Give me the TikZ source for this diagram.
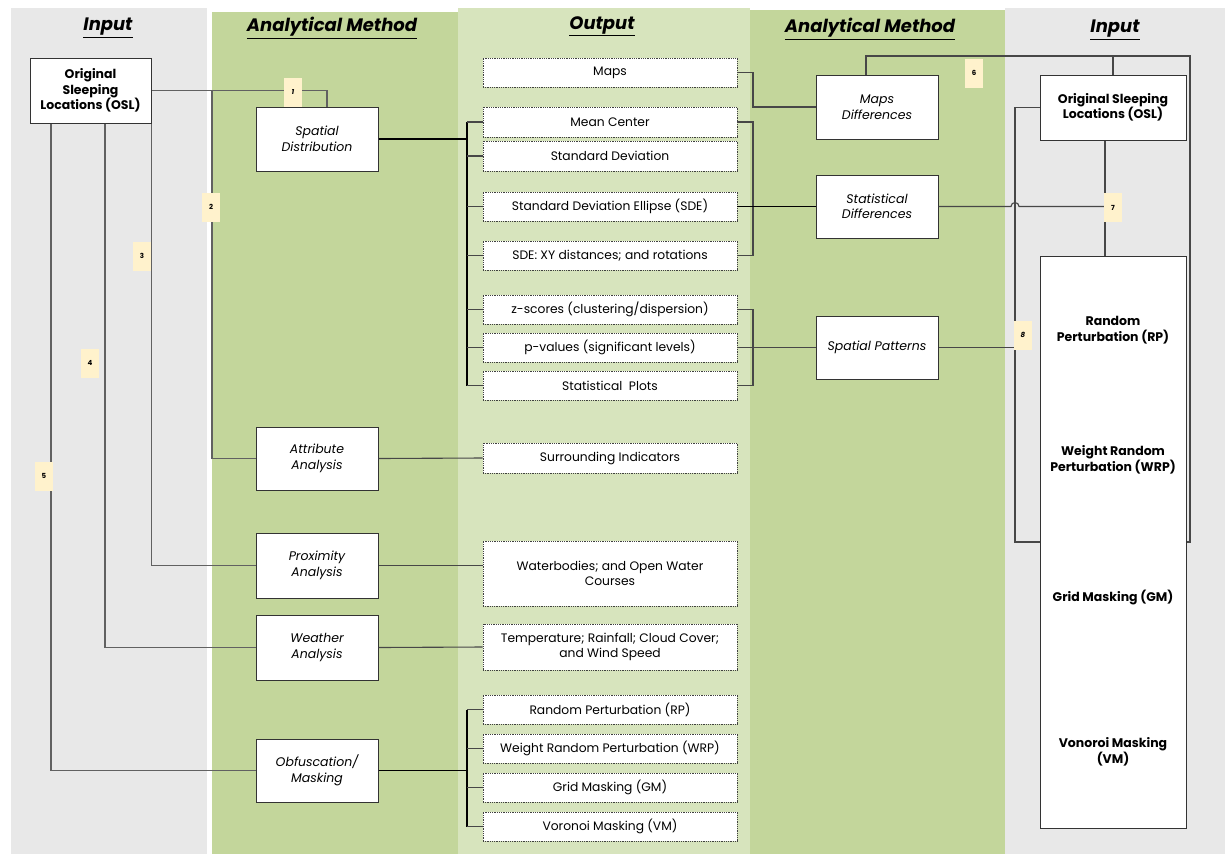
\documentclass[tikz,border=0pt]{standalone}
\usepackage{fontspec}
\setmainfont{Poppins}
\usetikzlibrary{shadows}
\definecolor{bggray}{HTML}{E8E8E8}
\definecolor{bggreen}{HTML}{C3D69B}
\definecolor{bgout}{HTML}{D7E4BD}
\definecolor{badgec}{HTML}{FFF2CC}
\tikzset{
  box/.style={draw=black!80, line width=1pt, fill=white, minimum width=122pt, minimum height=64pt, align=center, inner sep=1pt, font=\fontsize{12.5}{15.5}\selectfont\itshape, drop shadow={shadow xshift=1pt, shadow yshift=-1pt, opacity=0.35}},
  inbox/.style={box, font=\fontsize{12.5}{15.5}\selectfont\bfseries},
  outbox/.style={draw=black!75, densely dotted, line width=0.8pt, fill=white, minimum width=254pt, minimum height=29pt, align=center, inner sep=1pt, font=\fontsize{12.3}{15.5}\selectfont},
  conn/.style={draw=black!72, line width=1.1pt},
  lconn/.style={draw=black!62, line width=1.5pt},
  busline/.style={draw=black, line width=1.3pt},
  badge/.style={fill=badgec, minimum width=18pt, minimum height=29pt, inner sep=0pt, font=\fontsize{7}{8}\selectfont\bfseries},
  head/.style={font=\fontsize{18}{22}\selectfont\bfseries\itshape, inner sep=0pt},
  bigtext/.style={align=center, font=\fontsize{12.5}{15.5}\selectfont\bfseries, inner sep=0pt}
}
\begin{document}
\begin{tikzpicture}[x=1pt,y=-1pt]
\useasboundingbox (0,0) rectangle (1225,854);
\fill[white] (0,0) rectangle (1225,854);
% bands
\fill[bggray] (11,8) rectangle (207,854);
\fill[bggreen] (212,12) rectangle (458,854);
\fill[bgout] (458,8) rectangle (750,854);
\fill[bggreen] (750,10) rectangle (1005,854);
\fill[bggray] (1005,8) rectangle (1225,854);
% headers
\node[head] (h1) at (108,28) {\underline{Input}};
\node[head] (h2) at (332,28) {\underline{Analytical Method}};
\node[head] (h3) at (602,26) {\underline{Output}};
\node[head] (h4) at (870,29) {\underline{Analytical Method}};
\node[head] (h5) at (1115,30) {\underline{Input}};
% left input
\node[inbox, minimum width=121pt, minimum height=65pt] (osl1) at (90.5,90.5) {Original\\Sleeping\\Locations (OSL)};
% analytical method left
\node[box] (sd) at (317,139) {Spatial\\Distribution};
\node[box, minimum height=63pt] (aa) at (317,458.5) {Attribute\\Analysis};
\node[box, minimum height=65pt] (pa) at (317,565.5) {Proximity\\Analysis};
\node[box, minimum height=65pt] (wa) at (317,647.5) {Weather\\Analysis};
\node[box, minimum height=63pt] (ob) at (317,770.5) {Obfuscation/\\Masking};
% outputs
\node[outbox] (maps) at (610,72.5) {Maps};
\node[outbox, minimum height=30pt] (mc) at (610,122) {Mean Center};
\node[outbox, minimum height=30pt] (std) at (610,156) {Standard Deviation};
\node[outbox] (sde) at (610,206.5) {Standard Deviation Ellipse (SDE)};
\node[outbox] (xy) at (610,255.5) {SDE: XY distances; and rotations};
\node[outbox] (zs) at (610,309.5) {z-scores (clustering/dispersion)};
\node[outbox] (pv) at (610,347.5) {p-values (significant levels)};
\node[outbox] (sp) at (610,385.5) {Statistical \ Plots};
\node[outbox, minimum height=30pt] (si) at (610,458) {Surrounding Indicators};
\node[outbox, minimum height=65pt] (wb) at (610,573.5) {Waterbodies; and Open Water\\Courses};
\node[outbox, minimum height=46pt] (tp) at (610,647) {Temperature; Rainfall; Cloud Cover;\\and Wind Speed};
\node[outbox] (rp) at (610,709.5) {Random Perturbation (RP)};
\node[outbox] (wrp) at (610,748.5) {Weight Random Perturbation (WRP)};
\node[outbox] (gm) at (610,787.5) {Grid Masking (GM)};
\node[outbox] (vm) at (610,826.5) {Voronoi Masking (VM)};
% analytical method right
\node[box] (md) at (877,107) {Maps\\Differences};
\node[box, minimum height=63pt] (sdf) at (877,206.5) {Statistical\\Differences};
\node[box, minimum height=63pt] (spp) at (877,347.5) {Spatial Patterns};
% input right
\node[inbox, minimum width=146pt, minimum height=65pt] (osl2) at (1113,107.5) {Original Sleeping\\Locations (OSL)};
\node[inbox, minimum width=146pt, minimum height=572pt] (big) at (1113,542) {};
\node[bigtext] (t1) at (1113,330) {Random\\Perturbation (RP)};
\node[bigtext] (t2) at (1113,460) {Weight Random\\Perturbation (WRP)};
\node[bigtext] (t3) at (1113,598) {Grid Masking (GM)};
\node[bigtext] (t4) at (1113,752) {Vonoroi Masking\\(VM)};
% coordinates
\coordinate (j2) at (212,90.5);
\coordinate (bl) at (467,139);
\coordinate (br) at (753,0);
\coordinate (vl) at (1015,0);
\coordinate (tp6) at (1190,56);
\coordinate (vc) at (1105,0);
% left connectors
\draw[lconn] (osl1.east) -| ([xshift=10pt]sd.north);
\draw[lconn] (j2) |- (aa.west);
\draw[lconn] (osl1.south east) |- (pa.west);
\draw[lconn] ([xshift=14.5pt]osl1.south) |- (wa.west);
\draw[lconn] ([xshift=-39.5pt]osl1.south) |- (ob.west);
% spatial distribution bus
\draw[busline] (sd.east) -- (bl);
\draw[busline] (mc.west -| bl) -- (sp.west -| bl);
\foreach \n in {mc,std,sde,xy,zs,pv,sp}{\draw[conn] (\n.west -| bl) -- (\n.west);}
\draw[conn] (aa.east) -- (si.west);
\draw[conn] (pa.east) -- (pa.east -| wb.west);
\draw[conn] (wa.east) -- (tp.west);
% obfuscation bus
\draw[busline] (ob.east) -- (ob.east -| bl);
\draw[busline] (rp.west -| bl) -- (vm.west -| bl);
\foreach \n in {rp,wrp,gm,vm}{\draw[conn] (\n.west -| bl) -- (\n.west);}
% right brackets
\draw[conn] (maps.east) -| (br |- md.west) -- (md.west);
\draw[conn] (mc.east) -| (br |- xy.east) -- (xy.east);
\draw[busline] (sde.east) -- (sdf.west);
\draw[conn] (zs.east) -| (br |- sp.east) -- (sp.east);
\draw[conn] (pv.east) -- (spp.west);
% right input connectors
\draw[conn] (sdf.east) -- ([xshift=-4pt]vl |- sdf.east) arc[start angle=180,end angle=0,radius=4pt] -- (vc |- sdf.east);
\draw[conn] (vc |- osl2.south) -- (vc |- big.north);
\draw[conn] ([xshift=-11pt]md.north) |- (tp6) |- (big.east);
\draw[conn] (osl2.north) -- (osl2.north |- tp6);
\draw[conn] (osl2.west) -| (vl |- big.west) -- (big.west);
\draw[conn] (spp.east) -- (vl |- spp.east);
% badges
\node[badge] (b1) at (293,92.5) {\itshape 1};
\node[badge] (b2) at (211,207) {2};
\node[badge] (b3) at (142,256) {3};
\node[badge] (b4) at (90,363) {4};
\node[badge] (b5) at (44,476) {5};
\node[badge] (b6) at (974,73) {6};
\node[badge] (b7) at (1113,207.5) {7};
\node[badge] (b8) at (1023,335) {\itshape 8};
\end{tikzpicture}
\end{document}
